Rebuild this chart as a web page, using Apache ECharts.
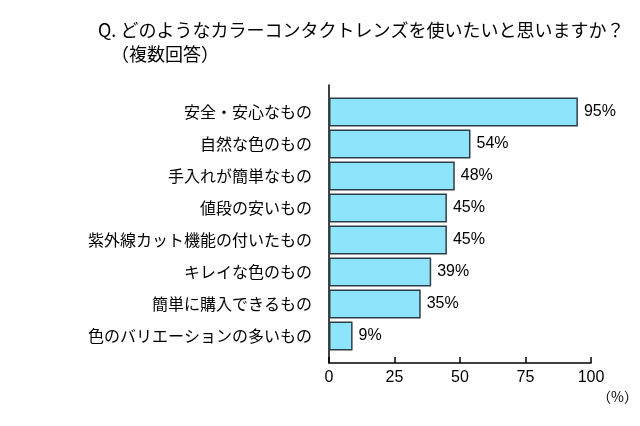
<!DOCTYPE html>
<html>
<head>
<meta charset="utf-8">
<script src="https://cdn.jsdelivr.net/npm/echarts@6/dist/echarts.min.js"></script>
<style>html,body{margin:0;padding:0;background:#fff;}#c{width:640px;height:426px;}</style>
</head>
<body>
<div id="c"></div>
<script>
var categories = ['安全・安心なもの','自然な色のもの','手入れが簡単なもの','値段の安いもの','紫外線カット機能の付いたもの','キレイな色のもの','簡単に購入できるもの','色のバリエーションの多いもの'];
var values = [95, 54, 48, 45, 45, 39, 35, 9];
var xTicks = [0, 25, 50, 75, 100];
var titleText = 'Q. どのようなカラーコンタクトレンズを使いたいと思いますか？';
var subTitleText = '（複数回答）';
var unitText = '（%）';

var jp = '"Noto Sans CJK JP", "Noto Sans", sans-serif';
var num = '"Liberation Sans", Arial, sans-serif';
var chart = echarts.init(document.getElementById('c'), null, {renderer: 'canvas'});
chart.setOption({
  animation: false,
  backgroundColor: '#fff',
  title: [
    {text: titleText, left: 93, top: 16, textStyle: {fontFamily: jp, fontSize: 18, fontWeight: 'normal', color: '#000'}},
    {text: subTitleText, left: 106, top: 40, textStyle: {fontFamily: jp, fontSize: 18, fontWeight: 'normal', color: '#000'}},
    {text: unitText, left: 592, top: 385, textStyle: {fontFamily: jp, fontSize: 14, fontWeight: 'normal', color: '#000'}}
  ],
  grid: [
    {left: 329, width: 262, top: 85, height: 278},
    {left: 329, width: 262, top: 96, height: 256}
  ],
  xAxis: [
    {gridIndex: 0, type: 'value', min: xTicks[0], max: xTicks[xTicks.length-1], interval: xTicks[1]-xTicks[0],
     axisLine: {show: true, lineStyle: {color: '#000', width: 1.5}},
     axisTick: {show: true, inside: true, length: 6, lineStyle: {color: '#000', width: 1.5}},
     axisLabel: {color: '#000', fontSize: 16, fontFamily: num, margin: 7},
     splitLine: {show: false}},
    {gridIndex: 1, type: 'value', min: xTicks[0], max: xTicks[xTicks.length-1], show: false}
  ],
  yAxis: [
    {gridIndex: 0, type: 'value', min: 0, max: 1,
     axisLine: {show: true, onZero: false, lineStyle: {color: '#000', width: 1.5}},
     axisTick: {show: false}, axisLabel: {show: false}, splitLine: {show: false}},
    {gridIndex: 1, type: 'category', data: categories, inverse: true,
     axisLine: {show: false}, axisTick: {show: false},
     axisLabel: {color: '#000', fontSize: 16, fontFamily: jp, margin: 17}}
  ],
  series: [{
    type: 'bar', xAxisIndex: 1, yAxisIndex: 1, data: values, barWidth: 29,
    itemStyle: {color: '#8ee4fa', borderColor: '#2f3f48', borderWidth: 1.5},
    label: {show: true, position: 'right', distance: 6, formatter: '{c}%', color: '#000', fontSize: 16, fontFamily: num}
  }]
});
</script>
</body>
</html>
